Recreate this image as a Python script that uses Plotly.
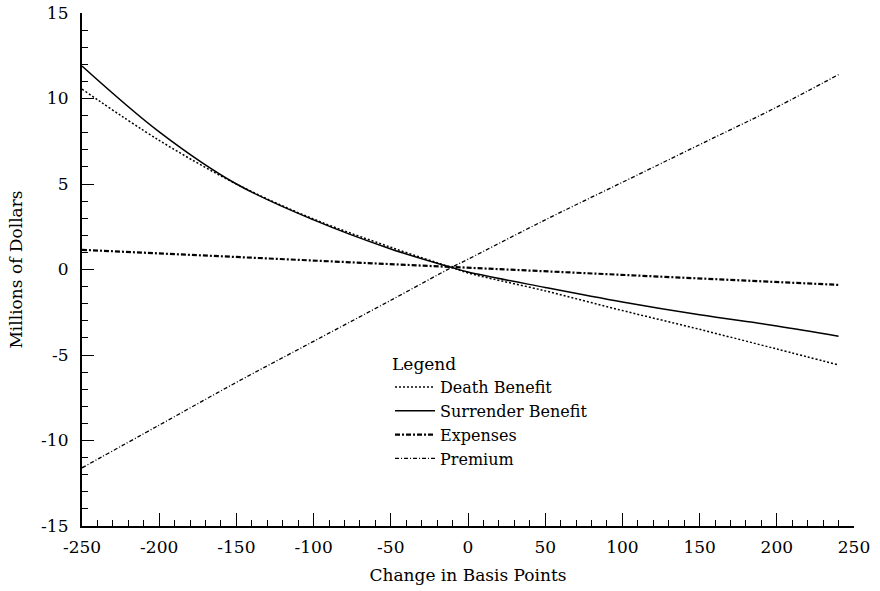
import plotly.graph_objects as go

bp = [-250, -200, -150, -100, -50, -10, 0, 50, 100, 150, 200, 240]
death_benefit = [10.55, 7.55, 5.0, 2.95, 1.3, 0.1, -0.2, -1.25, -2.4, -3.5, -4.65, -5.58]
surrender_benefit = [11.9, 8.05, 5.0, 2.9, 1.2, 0.1, -0.15, -1.05, -1.9, -2.65, -3.3, -3.9]
expenses = [1.15, 0.94, 0.73, 0.53, 0.32, 0.15, 0.11, -0.1, -0.31, -0.52, -0.73, -0.9]
premium = [-11.6, -9.1, -6.6, -4.2, -1.8, 0.15, 0.6, 2.9, 5.1, 7.3, 9.5, 11.4]

x_tickvals = [-250, -200, -150, -100, -50, 0, 50, 100, 150, 200, 250]
x_ticktext = ["-250", "-200", "-150", "-100", "-50", "0", "50", "100", "150", "200", "250"]
y_tickvals = [-15, -10, -5, 0, 5, 10, 15]
y_ticktext = ["-15", "-10", "-5", "0", "5", "10", "15"]

FONT = "DejaVu Serif"
FS = 17

fig = go.Figure()
fig.add_trace(go.Scatter(x=bp, y=death_benefit, mode="lines", name="Death Benefit",
                         line=dict(color="black", width=1.5, dash="2px,2px", shape="spline")))
fig.add_trace(go.Scatter(x=bp, y=surrender_benefit, mode="lines", name="Surrender Benefit",
                         line=dict(color="black", width=1.5, shape="spline")))
fig.add_trace(go.Scatter(x=bp, y=expenses, mode="lines", name="Expenses",
                         line=dict(color="black", width=2.2, dash="5px,2px,2px,2px")))
fig.add_trace(go.Scatter(x=bp, y=premium, mode="lines", name="Premium",
                         line=dict(color="black", width=1.3, dash="4px,2px,1px,2px", shape="spline")))

fig.update_layout(
    width=880, height=591,
    margin=dict(l=82, r=26, t=13, b=65, autoexpand=False),
    paper_bgcolor="white", plot_bgcolor="white",
    font=dict(family=FONT, color="black", size=FS),
    showlegend=True,
    legend=dict(title=dict(text="Legend", font=dict(family=FONT, size=FS)),
                x=0.399, y=0.347, xanchor="left", yanchor="top",
                bgcolor="rgba(0,0,0,0)", font=dict(family=FONT, size=16),
                tracegroupgap=0, itemwidth=40),
    xaxis=dict(range=[-250, 250], tickmode="array", tickvals=x_tickvals, ticktext=x_ticktext,
               ticks="inside", ticklen=13, tickwidth=1.2, tickcolor="black",
               minor=dict(tickmode="linear", tick0=-250, dtick=10, ticks="inside", ticklen=6,
                          tickwidth=1, tickcolor="black"),
               showline=True, linewidth=2.2, linecolor="black", showgrid=False, zeroline=False,
               automargin=False, ticklabelstandoff=4,
               title=dict(text="Change in Basis Points", font=dict(family=FONT, size=FS), standoff=14),
               tickfont=dict(family=FONT, size=FS)),
    yaxis=dict(range=[-15, 15], tickmode="array", tickvals=y_tickvals, ticktext=y_ticktext,
               ticks="inside", ticklen=12, tickwidth=1.2, tickcolor="black",
               minor=dict(tickmode="linear", tick0=-15, dtick=1, ticks="inside", ticklen=6,
                          tickwidth=1, tickcolor="black"),
               showline=True, linewidth=2.2, linecolor="black", showgrid=False, zeroline=False,
               automargin=False, ticklabelstandoff=8,
               title=dict(text="Millions of Dollars", font=dict(family=FONT, size=FS), standoff=14),
               tickfont=dict(family=FONT, size=FS)),
)

fig.write_html("out.html", config={"displayModeBar": False},
               post_script="document.body.style.margin='0';document.body.style.overflow='hidden';")
